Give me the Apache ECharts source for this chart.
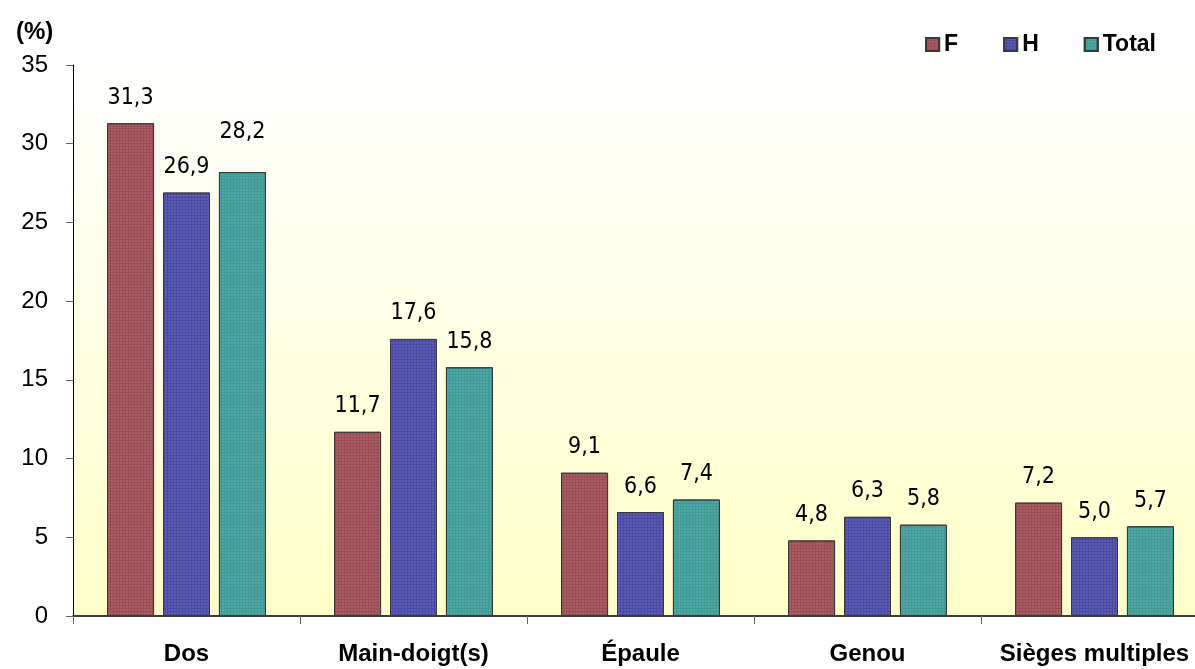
<!DOCTYPE html>
<html><head><meta charset="utf-8">
<script src="https://cdn.jsdelivr.net/npm/echarts@6/dist/echarts.min.js"></script>
<style>html,body{margin:0;padding:0;background:#fff}#c{width:1195px;height:669px}</style>
</head><body><div id="c"></div>
<script>
var categories = ['Dos', 'Main-doigt(s)', 'Épaule', 'Genou', 'Sièges multiples'];
var valuesF = [31.3, 11.7, 9.1, 4.8, 7.2];
var valuesH = [26.9, 17.6, 6.6, 6.3, 5.0];
var valuesTotal = [28.2, 15.8, 7.4, 5.8, 5.7];
var seriesNames = ['F', 'H', 'Total'];
var yTicks = [0, 5, 10, 15, 20, 25, 30, 35];

var colors = ['#9C4C55', '#4A4AA6', '#3E9B97'];
function decal() {
  return { symbol: 'rect', symbolSize: 0.6, color: 'rgba(255,255,255,0.35)', dashArrayX: [2, 1], dashArrayY: [2, 1], rotation: 0 };
}
var labelStyle = {
  show: true, position: 'top', distance: 14,
  fontFamily: '"DejaVu Sans Condensed", "Liberation Sans Narrow", sans-serif', fontSize: 23, color: '#000',
  formatter: function (p) { return p.value.toFixed(1).replace('.', ','); }
};
function mk(name, data, i, raised) {
  return {
    name: name, type: 'bar', barWidth: 47, barGap: '19%',
    data: data.map(function (v, k) {
      return raised && raised[k] ? { value: v, label: { offset: [0, -raised[k]] } } : v;
    }),
    itemStyle: { color: colors[i], borderColor: '#3a3a3a', borderWidth: 1, decal: decal() },
    label: labelStyle
  };
}
var chart = echarts.init(document.getElementById('c'), null, { renderer: 'canvas' });
chart.setOption({
  animation: false,
  aria: { decal: { show: true } },
  backgroundColor: '#fff',
  textStyle: { fontFamily: 'Arial, "Liberation Sans", sans-serif' },
  grid: {
    left: 73, width: 1135, top: 65, height: 551, containLabel: false, outerBoundsMode: 'none', show: true, borderWidth: 0,
    backgroundColor: { type: 'linear', x: 0, y: 0, x2: 0, y2: 1, colorStops: [{ offset: 0, color: '#FFFFFF' }, { offset: 1, color: '#FFFFC8' }] }
  },
  title: { text: '(%)', left: 11, top: 15, textStyle: { fontSize: 24, fontWeight: 'bold', color: '#000', fontFamily: 'Arial, "Liberation Sans", sans-serif' } },
  legend: {
    data: seriesNames, right: 34, top: 28, itemWidth: 13, itemHeight: 13, itemGap: 45,
    textStyle: { fontSize: 23, fontWeight: 'bold', color: '#000' },
    icon: 'rect'
  },
  xAxis: {
    type: 'category', data: categories,
    axisLine: { lineStyle: { color: '#000', width: 1.5 } },
    axisTick: { show: true, alignWithLabel: false, length: 8, lineStyle: { color: '#666' } },
    axisLabel: { fontSize: 24, fontWeight: 'bold', color: '#000', margin: 26, interval: 0 }
  },
  yAxis: {
    type: 'value', min: 0, max: 35, interval: 5,
    splitLine: { show: false },
    axisLine: { show: true, lineStyle: { color: '#000', width: 1 } },
    axisTick: { show: true, length: 7, lineStyle: { color: '#666' } },
    axisLabel: { fontSize: 24, color: '#000', margin: 25, formatter: function (v) { return yTicks.indexOf(v) >= 0 ? String(v) : ''; } }
  },
  series: [mk('F', valuesF, 0), mk('H', valuesH, 1), mk('Total', valuesTotal, 2, [15, 0, 0, 0, 0])]
});
</script></body></html>
